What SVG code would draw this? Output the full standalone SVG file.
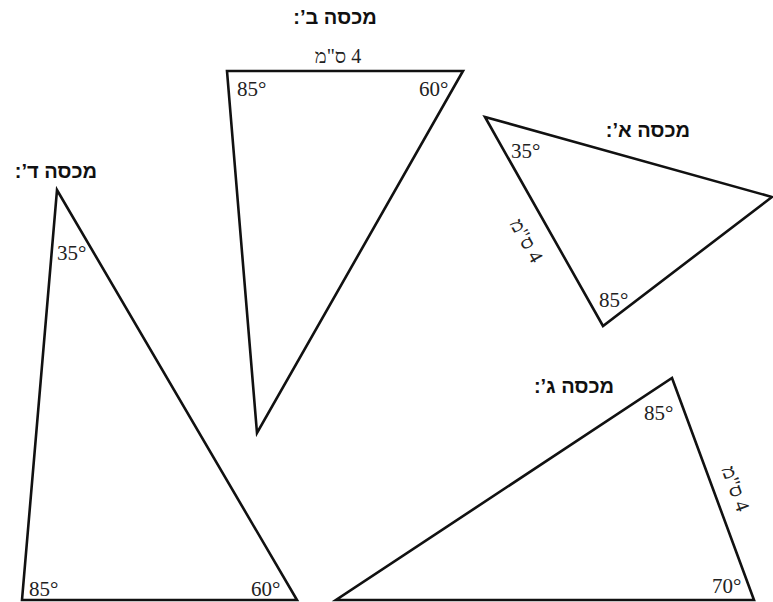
<svg xmlns="http://www.w3.org/2000/svg" width="773" height="602" viewBox="0 0 773 602">
<style>
.tri{fill:none;stroke:#111;stroke-width:2.6;stroke-linejoin:miter}
.ttl{font-family:"Liberation Sans",Arial,"DejaVu Sans",sans-serif;font-weight:bold;font-size:20px;fill:#111;text-anchor:middle}
.ang{font-family:"Liberation Serif","Times New Roman",serif;font-size:21px;fill:#222}
.len{font-family:"Liberation Serif","Times New Roman",serif;font-size:20px;fill:#222;text-anchor:middle}
</style>
<rect width="773" height="602" fill="#fff"/>
<g id="lid-b">
<polygon class="tri" points="227,71 463,71 257,433"/>
<text class="ttl" x="335" y="24">&#x202B;מכסה ב’:&#x202C;</text>
<text class="len" x="338" y="63">&#x202B;4 ס"מ&#x202C;</text>
<text class="ang" x="237" y="96">85°</text>
<text class="ang" x="419" y="96">60°</text>
</g>
<g id="lid-a">
<polygon class="tri" points="485,117 772,197 603,326"/>
<text class="ttl" x="648" y="137">&#x202B;מכסה א’:&#x202C;</text>
<text class="len" transform="translate(526,241) rotate(60.5)" x="0" y="6">&#x202B;4 ס"מ&#x202C;</text>
<text class="ang" x="511" y="158">35°</text>
<text class="ang" x="599" y="307">85°</text>
</g>
<g id="lid-d">
<polygon class="tri" points="57,190 22,600 297,600"/>
<text class="ttl" x="56" y="178">&#x202B;מכסה ד’:&#x202C;</text>
<text class="ang" x="57" y="260">35°</text>
<text class="ang" x="29" y="596">85°</text>
<text class="ang" x="251" y="596">60°</text>
</g>
<g id="lid-g">
<polygon class="tri" points="672,378 754,600 336,600"/>
<text class="ttl" x="574" y="393">&#x202B;מכסה ג’:&#x202C;</text>
<text class="len" transform="translate(735,489) rotate(69.7)" x="0" y="6">&#x202B;4 ס"מ&#x202C;</text>
<text class="ang" x="644" y="420">85°</text>
<text class="ang" x="712" y="593">70°</text>
</g>
<g id="connectors"></g>
</svg>
